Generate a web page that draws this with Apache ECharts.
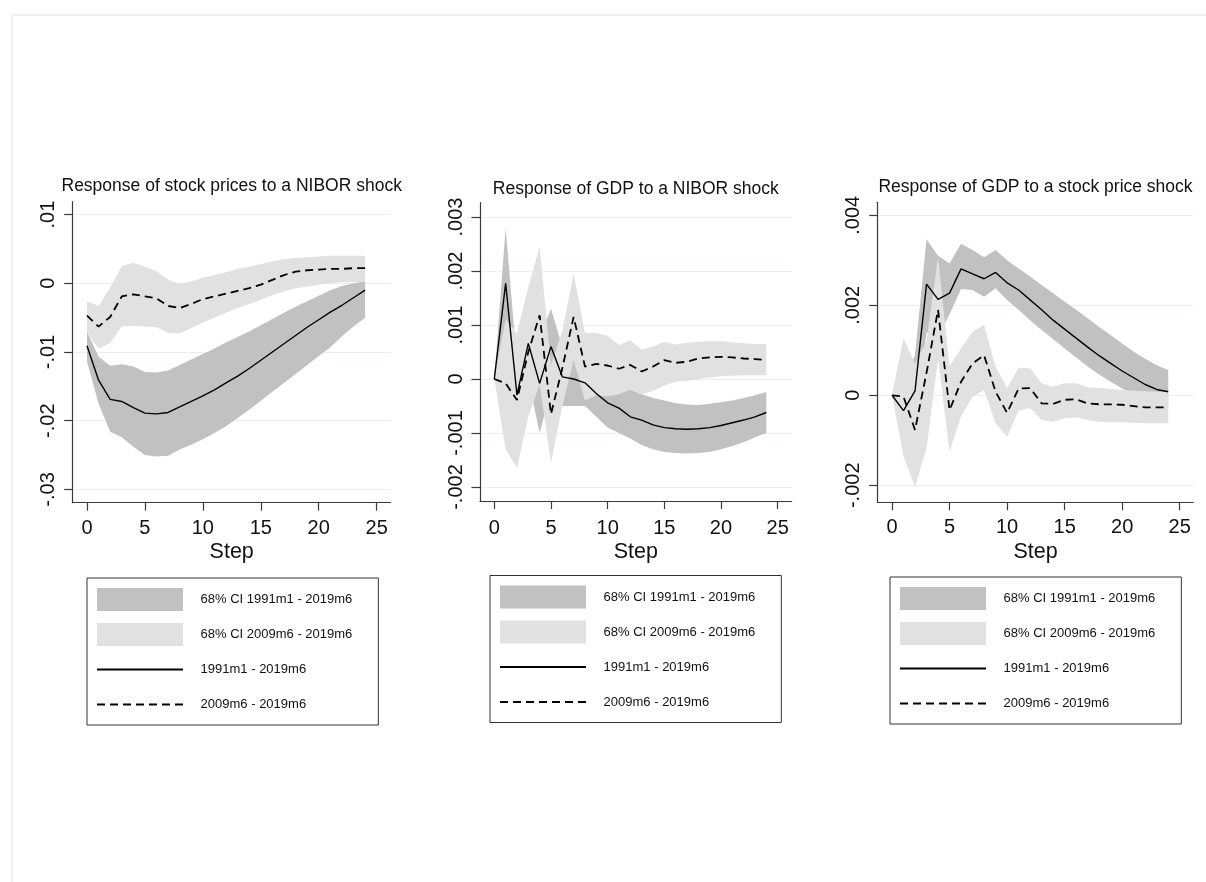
<!DOCTYPE html>
<html>
<head>
<meta charset="utf-8">
<script src="https://cdn.jsdelivr.net/npm/echarts@6/dist/echarts.min.js"></script>
<style>
html,body{margin:0;padding:0;background:#fff;}
#chart{width:1206px;height:882px;}
</style>
</head>
<body>
<div id="chart"></div>
<script>
// ---------------- DATA ----------------
const steps = [0,1,2,3,4,5,6,7,8,9,10,11,12,13,14,15,16,17,18,19,20,21,22,23,24];
const xTicks = [0,5,10,15,20,25];

const panelTitles = [
  'Response of stock prices to a NIBOR shock',
  'Response of GDP to a NIBOR shock',
  'Response of GDP to a stock price shock'
];
const xAxisTitle = 'Step';
const legendNames = [
  '68% CI 1991m1 - 2019m6',
  '68% CI 2009m6 - 2019m6',
  '1991m1 - 2019m6',
  '2009m6 - 2019m6'
];

// Panel 1: stock prices to NIBOR shock
const p1Ticks = [-0.03,-0.02,-0.01,0,0.01];
const p1Full   = [-0.0091,-0.0141,-0.0169,-0.0172,-0.0181,-0.0189,-0.0190,-0.0188,-0.0180,-0.0172,-0.0164,-0.0155,-0.0145,-0.0135,-0.0124,-0.0112,-0.0100,-0.0088,-0.0076,-0.0064,-0.0053,-0.0042,-0.0032,-0.0021,-0.0010];
const p1FullHi = [-0.0070,-0.0107,-0.0120,-0.0118,-0.0121,-0.0129,-0.0130,-0.0127,-0.0119,-0.0111,-0.0103,-0.0095,-0.0086,-0.0078,-0.0070,-0.0061,-0.0052,-0.0043,-0.0034,-0.0026,-0.0018,-0.0010,-0.0004,0.0000,0.0003];
const p1FullLo = [-0.0114,-0.0175,-0.0216,-0.0224,-0.0238,-0.0250,-0.0252,-0.0251,-0.0242,-0.0235,-0.0227,-0.0218,-0.0208,-0.0196,-0.0184,-0.0171,-0.0158,-0.0145,-0.0132,-0.0119,-0.0106,-0.0093,-0.0077,-0.0063,-0.0050];
const p1Sub    = [-0.0047,-0.0063,-0.0049,-0.0019,-0.0016,-0.0019,-0.0022,-0.0033,-0.0036,-0.0030,-0.0023,-0.0019,-0.0015,-0.0011,-0.0007,-0.0002,0.0005,0.0012,0.0017,0.0019,0.0020,0.0021,0.0021,0.0022,0.0022];
const p1SubHi  = [-0.0026,-0.0033,-0.0006,0.0025,0.0030,0.0024,0.0018,0.0005,-0.0001,0.0003,0.0008,0.0012,0.0016,0.0021,0.0024,0.0028,0.0032,0.0035,0.0037,0.0038,0.0039,0.0040,0.0040,0.0040,0.0040];
const p1SubLo  = [-0.0072,-0.0095,-0.0087,-0.0063,-0.0062,-0.0063,-0.0064,-0.0072,-0.0073,-0.0065,-0.0057,-0.0050,-0.0043,-0.0036,-0.0030,-0.0024,-0.0017,-0.0012,-0.0007,-0.0005,-0.0002,0.0000,0.0002,0.0002,0.0002];

// Panel 2: GDP to NIBOR shock
const p2Ticks = [-0.002,-0.001,0,0.001,0.002,0.003];
const p2Full   = [0,0.00177,-0.0003,0.00066,-0.00008,0.0006,0.00004,0.0,-0.00007,-0.00027,-0.00044,-0.00054,-0.0007,-0.00076,-0.00085,-0.0009,-0.00092,-0.00093,-0.00092,-0.0009,-0.00086,-0.00081,-0.00076,-0.0007,-0.00062];
const p2FullHi = [0,0.0028,0.0003,0.0013,0.0008,0.0013,0.0006,0.0005,0.00035,0.00015,0.0,-0.0001,-0.0002,-0.00028,-0.00035,-0.0004,-0.00045,-0.00047,-0.00048,-0.00046,-0.00043,-0.0004,-0.00035,-0.0003,-0.00024];
const p2FullLo = [0,0.0007,-0.0009,0.0,-0.0010,-0.0002,-0.0005,-0.0005,-0.0005,-0.0007,-0.0009,-0.0010,-0.0011,-0.00122,-0.0013,-0.00135,-0.00137,-0.00138,-0.00137,-0.00135,-0.0013,-0.00124,-0.00117,-0.00108,-0.0010];
const p2Sub    = [0,-0.00008,-0.00039,0.0005,0.00118,-0.00065,0.0002,0.00115,0.00023,0.00028,0.00025,0.00019,0.00026,0.00014,0.00023,0.00035,0.0003,0.00032,0.00038,0.0004,0.00041,0.0004,0.00038,0.00037,0.00035];
const p2SubHi  = [0,0.0011,0.00085,0.0017,0.00245,0.00025,0.0009,0.00195,0.00085,0.00085,0.0008,0.00063,0.00072,0.00054,0.0006,0.00069,0.00064,0.00067,0.00069,0.0007,0.0007,0.00068,0.00066,0.00065,0.00065];
const p2SubLo  = [0,-0.0013,-0.00165,-0.0007,-0.0001,-0.00155,-0.0005,0.00035,-0.0004,-0.0003,-0.00032,-0.00028,-0.0002,-0.00028,-0.00022,-0.00012,-0.00005,-0.00003,0.0,0.00003,0.00005,0.00006,0.00007,0.00007,0.00007];

// Panel 3: GDP to stock price shock
const p3Ticks = [-0.002,0,0.002,0.004];
const p3Full   = [0,-0.00034,0.0001,0.00247,0.00213,0.00227,0.00281,0.0027,0.00259,0.00273,0.0025,0.00234,0.00212,0.0019,0.00167,0.00147,0.00127,0.00107,0.00088,0.00071,0.00054,0.00039,0.00024,0.00013,0.00008];
const p3FullHi = [0,0.0002,0.0009,0.00347,0.0031,0.00293,0.00337,0.00323,0.00307,0.00323,0.003,0.00282,0.00264,0.00245,0.00227,0.00208,0.0019,0.00171,0.00152,0.00134,0.00115,0.00097,0.00081,0.00067,0.00056];
const p3FullLo = [0,-0.0009,-0.0007,0.0014,0.0013,0.0018,0.00236,0.00234,0.00219,0.00238,0.00212,0.0019,0.00167,0.00145,0.00125,0.00104,0.00084,0.00064,0.00046,0.0003,0.00015,0.0,-0.00012,-0.0002,-0.0003];
const p3Sub    = [0,-0.00003,-0.00077,0.0005,0.0019,-0.00033,0.0003,0.00071,0.00089,0.00008,-0.00039,0.00015,0.00016,-0.00018,-0.00019,-0.0001,-0.00009,-0.00018,-0.0002,-0.0002,-0.00021,-0.00024,-0.00027,-0.00027,-0.00027];
const p3SubHi  = [0,0.00127,0.0007,0.0012,0.00308,0.00064,0.00104,0.00141,0.00156,0.00064,0.00016,0.00061,0.0006,0.00027,0.00019,0.00027,0.00027,0.00018,0.00016,0.00014,0.00012,0.0001,0.00009,0.00008,0.00008];
const p3SubLo  = [0,-0.00136,-0.00203,-0.00118,0.0008,-0.00125,-0.00047,-0.00003,0.00012,-0.00062,-0.00092,-0.00033,-0.00029,-0.00055,-0.00059,-0.00051,-0.00049,-0.00055,-0.00059,-0.0006,-0.0006,-0.00061,-0.00062,-0.00062,-0.00062];

// ---------------- LAYOUT / STYLE ----------------
const FONT = "'Liberation Sans', Arial, Helvetica, sans-serif";
const DARK = '#c1c1c1', LIGHT = '#e1e1e1';
const GRID_COLOR = '#e6eff1';
const AXIS_COLOR = '#3a3a3a';

const panels = [
  {ticks:p1Ticks, full:p1Full, fullHi:p1FullHi, fullLo:p1FullLo, sub:p1Sub, subHi:p1SubHi, subLo:p1SubLo,
   grid:{left:72.7, top:201.7, width:318, height:301}, xMin:-1.234, xMax:26.21, yMin:-0.031936, yMax:0.011878,
   legend:{left:87, top:578}, titleTop:177, nameGap:38.5, labelMargin:15.5},
  {ticks:p2Ticks, full:p2Full, fullHi:p2FullHi, fullLo:p2FullLo, sub:p2Sub, subHi:p2SubHi, subLo:p2SubLo,
   grid:{left:480, top:202.7, width:311.7, height:298.3}, xMin:-1.262, xMax:26.24, yMin:-0.002259, yMax:0.003265,
   legend:{left:490, top:575.5}, titleTop:180, nameGap:40.5, labelMargin:17},
  {ticks:p3Ticks, full:p3Full, fullHi:p3FullHi, fullLo:p3FullLo, sub:p3Sub, subHi:p3SubHi, subLo:p3SubLo,
   grid:{left:877.7, top:202.3, width:315.6, height:300}, xMin:-1.243, xMax:26.18, yMin:-0.002378, yMax:0.004289,
   legend:{left:890, top:577}, titleTop:178, nameGap:38.5, labelMargin:15.5}
];

function fmtY(v){
  if (Math.abs(v) < 1e-12) return '0';
  const s = String(+(+v).toPrecision(6));
  return s.replace(/^(-?)0\./, '$1.');
}

function band(name, idx, lo, hi, color){
  return {
    type:'custom', name:name, xAxisIndex:idx, yAxisIndex:idx,
    data: steps.map((s,i)=>[s, lo[i], hi[i]]),
    encode:{x:0, y:[1,2]},
    itemStyle:{color:color},
    silent:true, animation:false, clip:true,
    renderItem:function(params, api){
      if (params.dataIndex !== 0) return null;
      const pts = [];
      for (let i=0;i<steps.length;i++) pts.push(api.coord([steps[i], hi[i]]));
      for (let i=steps.length-1;i>=0;i--) pts.push(api.coord([steps[i], lo[i]]));
      return {type:'polygon', shape:{points:pts}, style:{fill:color}};
    }
  };
}
function line(name, idx, vals, dashed){
  return {
    type:'line', name:name, xAxisIndex:idx, yAxisIndex:idx,
    data: steps.map((s,i)=>[s, vals[i]]),
    symbol:'none', showSymbol:false, silent:true, animation:false,
    lineStyle: dashed ? {color:'#000', width:1.8, type:[8,5]} : {color:'#000', width:1.4},
    itemStyle:{color:'#000'}
  };
}

const grids=[], xAxes=[], yAxes=[], series=[], titles=[], legends=[];
panels.forEach((p, idx)=>{
  grids.push(Object.assign({containLabel:false}, p.grid));
  xAxes.push({
    type:'value', gridIndex:idx, min:p.xMin, max:p.xMax,
    name:xAxisTitle, nameLocation:'middle', nameGap:p.nameGap,
    nameTextStyle:{fontSize:21.5, color:'#111', fontFamily:FONT},
    axisLine:{show:true, onZero:false, lineStyle:{color:AXIS_COLOR, width:1.2}},
    axisTick:{show:true, inside:false, length:8, customValues:xTicks, lineStyle:{color:AXIS_COLOR, width:1.2}},
    axisLabel:{show:true, customValues:xTicks, margin:p.labelMargin, fontSize:20, color:'#111', fontFamily:FONT},
    splitLine:{show:false}
  });
  yAxes.push({
    type:'value', gridIndex:idx, min:p.yMin, max:p.yMax,
    axisLine:{show:true, onZero:false, lineStyle:{color:AXIS_COLOR, width:1.2}},
    axisTick:{show:true, inside:false, length:8.5, customValues:p.ticks, lineStyle:{color:AXIS_COLOR, width:1.2}},
    axisLabel:{show:true, customValues:p.ticks, rotate:90, margin:14, fontSize:20, color:'#111', fontFamily:FONT, formatter:fmtY},
    splitLine:{show:true, lineStyle:{color:GRID_COLOR, width:1.2}}
  });
  series.push(band(legendNames[0], idx, p.fullLo, p.fullHi, DARK));
  series.push(band(legendNames[1], idx, p.subLo, p.subHi, LIGHT));
  series.push(line(legendNames[2], idx, p.full, false));
  series.push(line(legendNames[3], idx, p.sub, true));
  titles.push({
    text:panelTitles[idx], left:p.grid.left + p.grid.width/2, top:p.titleTop, textAlign:'center', padding:0,
    textStyle:{fontSize:17.5, fontWeight:'normal', color:'#111', fontFamily:FONT}
  });
  legends.push({
    left:p.legend.left, top:p.legend.top, orient:'vertical',
    padding:[10,26,9,9], itemWidth:86, itemHeight:23, itemGap:12,
    borderColor:'#333', borderWidth:1, backgroundColor:'#fff', selectedMode:false,
    textStyle:{fontSize:13, lineHeight:19, color:'#111', fontFamily:FONT, padding:[4,0,0,12.6]},
    data:[
      {name:legendNames[0], icon:'rect', itemStyle:{color:DARK}},
      {name:legendNames[1], icon:'rect', itemStyle:{color:LIGHT}},
      {name:legendNames[2], itemStyle:{color:'rgba(0,0,0,0)', opacity:0, borderWidth:0}},
      {name:legendNames[3], itemStyle:{color:'rgba(0,0,0,0)', opacity:0, borderWidth:0}}
    ]
  });
});

const chart = echarts.init(document.getElementById('chart'), null, {renderer:'canvas'});
chart.setOption({
  backgroundColor:'#fff',
  animation:false,
  textStyle:{fontFamily:FONT},
  title:titles,
  grid:grids,
  xAxis:xAxes,
  yAxis:yAxes,
  legend:legends,
  series:series,
  graphic:[{
    type:'rect', silent:true, z:-10,
    shape:{x:12, y:15, width:1260, height:1000},
    style:{fill:null, stroke:'#f0f0f0', lineWidth:2}
  }]
});
</script>
</body>
</html>
